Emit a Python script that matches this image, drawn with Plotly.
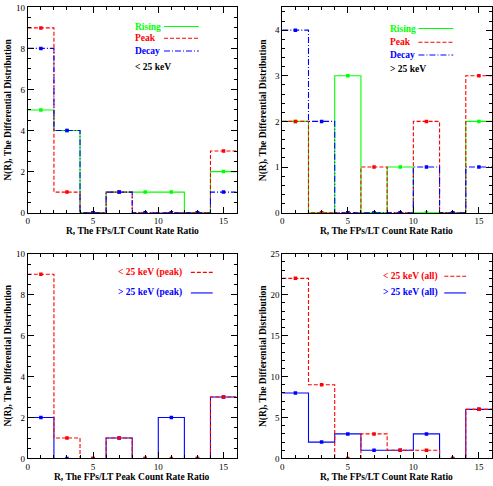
import plotly.graph_objects as go

W, H = 493, 486

# ---- data ----
bin_edges = [0, 2, 4, 6, 8, 10, 12, 14, 16]
bin_centers = [1, 3, 5, 7, 9, 11, 13, 15]

lo_rising = [5, 4, 0, 1, 1, 1, 0, 2]
lo_peak = [9, 1, 0, 1, 0, 0, 0, 3]
lo_decay = [8, 4, 0, 1, 0, 0, 0, 1]

hi_rising = [2, 0, 3, 0, 1, 0, 0, 2]
hi_peak = [2, 0, 0, 1, 0, 2, 0, 3]
hi_decay = [4, 2, 0, 0, 0, 1, 0, 1]

lo_all = [22, 9, 0, 3, 1, 1, 0, 6]
hi_all = [8, 2, 3, 1, 1, 3, 0, 6]

GREEN, RED, BLUE = "#00ff00", "#ff0000", "#0000ff"
FONT = "Liberation Serif"
FS = 9.5
TFS = 9
DASH = "4px,2px"
DASHDOT = "6px,2px,1px,2px"


def px(x):
    return x / W


def py(y):
    return 1 - y / H


fig = go.Figure()


def hist(vals, color, dash, xa, ya):
    fig.add_trace(go.Scatter(
        x=bin_edges, y=list(vals) + [vals[-1]], mode="lines",
        line=dict(color=color, width=1.1, dash=dash, shape="hv"),
        xaxis=xa, yaxis=ya, showlegend=False, hoverinfo="skip"))
    fig.add_trace(go.Scatter(
        x=bin_centers, y=vals, mode="markers",
        marker=dict(color=color, size=3.5, symbol="square"),
        xaxis=xa, yaxis=ya, showlegend=False, hoverinfo="skip"))


# panel 1
hist(lo_rising, GREEN, "solid", "x", "y")
hist(lo_peak, RED, DASH, "x", "y")
hist(lo_decay, BLUE, DASHDOT, "x", "y")
# panel 2
hist(hi_rising, GREEN, "solid", "x2", "y2")
hist(hi_peak, RED, DASH, "x2", "y2")
hist(hi_decay, BLUE, DASHDOT, "x2", "y2")
# panel 3
hist(hi_peak, BLUE, "solid", "x3", "y3")
hist(lo_peak, RED, DASH, "x3", "y3")
# panel 4
hist(hi_all, BLUE, "solid", "x4", "y4")
hist(lo_all, RED, DASH, "x4", "y4")


def xaxis(dom, anchor):
    return dict(domain=dom, range=[0, 16], anchor=anchor, showgrid=False, zeroline=False,
                showline=True, linecolor="black", linewidth=1, mirror="allticks",
                ticks="inside", ticklen=6, tickcolor="black", dtick=5, tick0=0,
                minor=dict(dtick=1, ticks="inside", ticklen=3, tickcolor="black"),
                tickfont=dict(family=FONT, size=TFS, color="black"))


def yaxis(dom, anchor, rng, dt, mdt):
    return dict(domain=dom, range=rng, anchor=anchor, showgrid=False, zeroline=False,
                showline=True, linecolor="black", linewidth=1, mirror="allticks",
                ticks="inside", ticklen=6, tickcolor="black", dtick=dt, tick0=0,
                minor=dict(dtick=mdt, ticks="inside", ticklen=3, tickcolor="black"),
                tickfont=dict(family=FONT, size=TFS, color="black"))


L = [px(26), px(236)]
R = [px(282), 1.0]
T = [py(212), py(2.4)]
B = [py(463), py(254)]

fig.update_layout(
    width=W, height=H, margin=dict(l=0, r=0, t=0, b=0),
    paper_bgcolor="white", plot_bgcolor="white", showlegend=False,
    font=dict(family=FONT, size=FS, color="black"),
    xaxis=xaxis(L, "y"), yaxis=yaxis(T, "x", [0, 10], 2, 0.5),
    xaxis2=xaxis(R, "y2"), yaxis2=yaxis(T, "x2", [0, 4.5], 1, 0.2),
    xaxis3=xaxis(L, "y3"), yaxis3=yaxis(B, "x3", [0, 10], 2, 0.5),
    xaxis4=xaxis(R, "y4"), yaxis4=yaxis(B, "x4", [0, 25], 5, 1),
)

ann = []
shapes = []


def text(x, y, s, color="black", angle=0, xanchor="center"):
    ann.append(dict(x=px(x), y=py(y), xref="paper", yref="paper", text=s, showarrow=False,
                    xanchor=xanchor, yanchor="middle", textangle=angle,
                    font=dict(family=FONT, size=FS, color=color)))


def seg(x0, x1, y, color, dash):
    shapes.append(dict(type="line", xref="paper", yref="paper", x0=px(x0), x1=px(x1),
                       y0=py(y), y1=py(y), line=dict(color=color, width=1.1, dash=dash)))


ytitle = "N(R), The Differential Distribution"
# axis titles
text(131, 231, "<b>R, The FPs/LT Count Rate Ratio</b>")
text(387, 231, "<b>R, The FPs/LT Count Rate Ratio</b>")
text(131, 482, "<b>R, The FPs/LT Peak Count Rate Ratio</b>")
text(387, 482, "<b>R, The FPs/LT Count Rate Ratio</b>")
text(7, 107, "<b>" + ytitle + "</b>", angle=-90)
text(263, 107, "<b>" + ytitle + "</b>", angle=-90)
text(7, 358, "<b>" + ytitle + "</b>", angle=-90)
text(263, 358, "<b>" + ytitle + "</b>", angle=-90)

# legends panel 1
text(132, 22, "<b>Rising</b>", GREEN, xanchor="left"); seg(163, 198, 22, GREEN, "solid")
text(132, 34, "<b>Peak</b>", RED, xanchor="left"); seg(163, 198, 34, RED, DASH)
text(132, 47, "<b>Decay</b>", BLUE, xanchor="left"); seg(163, 198, 47, BLUE, DASHDOT)
text(132, 63, "<b>&lt; 25 keV</b>", xanchor="left")
# legends panel 2
text(388, 24, "<b>Rising</b>", GREEN, xanchor="left"); seg(419, 454, 24, GREEN, "solid")
text(388, 38, "<b>Peak</b>", RED, xanchor="left"); seg(419, 454, 38, RED, DASH)
text(388, 51, "<b>Decay</b>", BLUE, xanchor="left"); seg(419, 454, 51, BLUE, DASHDOT)
text(388, 65, "<b>&gt; 25 keV</b>", xanchor="left")
# legends panel 3
text(183, 273, "<b>&lt; 25 keV (peak)</b>", RED, xanchor="right"); seg(190, 212, 273, RED, DASH)
text(183, 294, "<b>&gt; 25 keV (peak)</b>", BLUE, xanchor="right"); seg(190, 212, 294, BLUE, "solid")
# legends panel 4
text(441, 277, "<b>&lt; 25 keV (all)</b>", RED, xanchor="right"); seg(445, 467, 277, RED, DASH)
text(441, 294, "<b>&gt; 25 keV (all)</b>", BLUE, xanchor="right"); seg(445, 467, 294, BLUE, "solid")

fig.update_layout(annotations=ann, shapes=shapes)
fig.write_html("out.html")
